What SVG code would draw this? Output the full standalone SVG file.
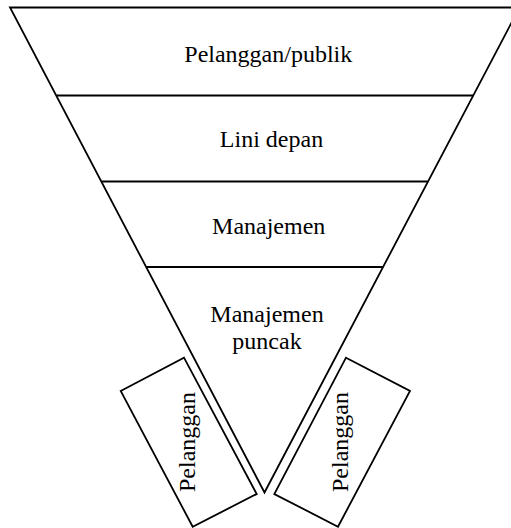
<svg xmlns="http://www.w3.org/2000/svg" width="511" height="528" viewBox="0 0 511 528">
<style>
.ln{fill:none;stroke:#000;stroke-width:1.8;stroke-linejoin:miter}
.box{fill:#fff;stroke:#000;stroke-width:1.8}
.t{font-family:"Liberation Serif","Times New Roman",serif;font-size:24px;fill:#000;text-anchor:middle}
</style>
<rect width="511" height="528" fill="#fff"/>
<g id="funnel">
<polygon class="ln" points="10,7.5 519.5,7.5 264.5,492.5"/>
</g>
<g id="connectors">
<line class="ln" x1="56.5" y1="95.5" x2="473" y2="95.5"/>
<line class="ln" x1="101.7" y1="181.5" x2="427.7" y2="181.5"/>
<line class="ln" x1="146.8" y1="267" x2="382.7" y2="267"/>
</g>
<g id="pelanggan-publik"><text class="t" x="268.3" y="61.5">Pelanggan/publik</text></g>
<g id="lini-depan"><text class="t" x="271.5" y="146.7">Lini depan</text></g>
<g id="manajemen"><text class="t" x="268.7" y="234.3">Manajemen</text></g>
<g id="manajemen-puncak"><text class="t" x="267" y="322.3">Manajemen</text><text class="t" x="267" y="349.3">puncak</text></g>
<g id="pelanggan-kiri">
<polygon class="box" points="120.7,391 184,357.7 256.7,494 192.7,526.7"/>
<text class="t" transform="translate(195,442) rotate(-90)">Pelanggan</text>
</g>
<g id="pelanggan-kanan">
<polygon class="box" points="346,357.7 410,391 338,526.7 274.3,494"/>
<text class="t" transform="translate(348,442) rotate(-90)">Pelanggan</text>
</g>
</svg>
